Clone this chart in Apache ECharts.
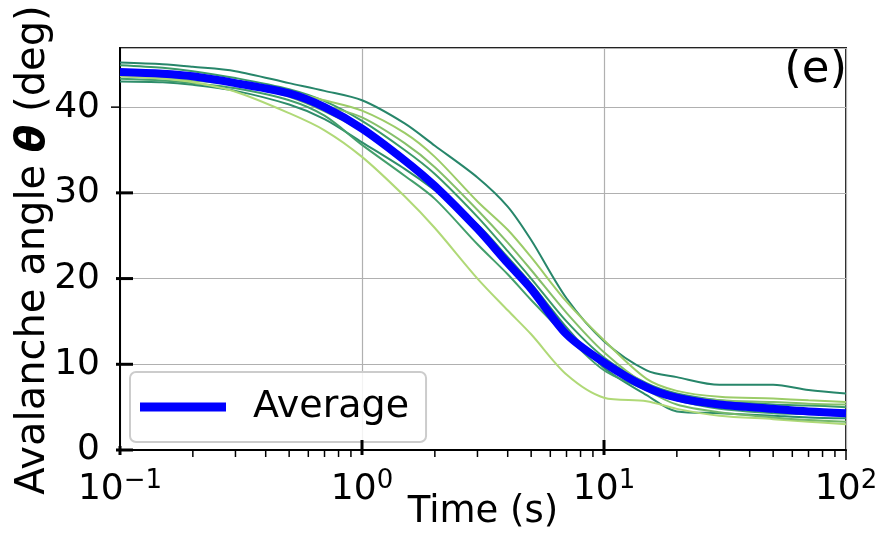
<!DOCTYPE html>
<html><head><meta charset="utf-8">
<script src="https://cdn.jsdelivr.net/npm/echarts@6/dist/echarts.min.js"></script>
<style>html,body{margin:0;padding:0;background:#fff}#c{width:883px;height:533px}</style>
</head><body><div id="c"></div>
<script>
// Time samples (s)
const times = [0.1,0.15,0.2,0.3,0.5,0.7,1,1.5,2,3,4,5,7,10,15,20,30,50,70,100];
// Individual runs (deg)
const runA = [45.2,45.0,44.7,44.2,42.8,41.9,40.8,38.1,35.5,31.8,28.4,24.5,17.7,12.7,9.3,8.5,7.6,7.6,7.0,6.6];
const runB = [44.9,44.6,44.2,43.4,42.1,40.7,38.4,35.0,32.2,27.2,23.2,20.0,15.0,10.8,7.8,6.6,5.8,5.3,5.2,5.0];
const runC = [43.8,43.6,43.3,42.8,41.8,40.8,39.6,37.0,34.2,29.0,25.7,22.5,17.3,12.8,8.3,6.9,6.2,6.0,5.8,5.6];
const runD = [43.6,43.4,43.1,42.6,41.4,40.2,38.8,35.8,33.0,28.0,24.2,21.0,16.0,11.4,7.6,6.4,5.8,5.6,5.4,5.3];
const runE = [43.0,42.9,42.6,41.9,40.3,38.6,35.9,32.8,30.3,26.3,22.5,19.4,14.3,9.6,6.4,4.5,4.3,4.0,3.8,3.7];
const runF = [43.3,43.1,42.8,42.2,40.8,39.0,35.6,32.0,29.3,24.0,20.5,17.5,13.3,9.3,7.0,5.8,4.8,4.3,4.2,4.0];
const runG = [43.6,43.3,42.9,41.8,39.3,37.3,34.2,29.6,25.9,20.0,16.3,13.5,8.8,6.1,5.7,4.8,4.0,3.6,3.3,3.0];
const runH = [44.0,43.8,43.5,42.9,41.2,39.5,37.2,33.5,30.6,25.5,21.6,18.7,14.0,10.2,7.0,5.3,4.4,3.8,3.5,3.3];
const average = [44.1,43.9,43.6,42.8,41.6,40.0,37.5,33.8,30.8,25.8,21.8,18.8,13.5,10.2,7.3,6.1,5.3,4.8,4.5,4.3];
// Tick values
const yTickVals = [0,10,20,30,40];
const xMajorTicks = [0.1,1,10,100];
const xMinorTicks = [0.2,0.3,0.4,0.5,0.6,0.7,0.8,0.9,2,3,4,5,6,7,8,9,20,30,40,50,60,70,80,90];

const FONT = 'DejaVu Sans';
const runs = [runA, runB, runC, runD, runE, runF, runG, runH];
const runColors = ['#27866a','#3b9a6a','#9ccc68','#86c06a','#2f8d6b','#449f6c','#b0d977','#74b86a'];
const pairs = arr => times.map((t,i)=>[t, arr[i]]);

const series = runs.map((r,i)=>({
  name: 'run' + (i+1), type:'line', data: pairs(r), showSymbol:false, smooth:0.3,
  lineStyle:{color:runColors[i], width:2}, itemStyle:{color:runColors[i]}, silent:true, z:2
}));
series.push({
  name:'Average', type:'line', data: pairs(average), showSymbol:false, smooth:0.3,
  lineStyle:{color:'#0000ff', width:8}, itemStyle:{color:'#0000ff'}, z:3
});
// tick marks: kind 0 = x minor, 1 = x major (thick), 2 = x origin, 3 = x end, 4 = y major thick, 5 = y top thin
const tickData = [];
xMinorTicks.forEach(v=>tickData.push([v,0,0]));
xMajorTicks.forEach((v,i)=>tickData.push([v,0, i===0?2:(i===xMajorTicks.length-1?3:1)]));
yTickVals.forEach((v,i)=>tickData.push([0.1, v, i===yTickVals.length-1?5:4]));
series.push({
  type:'custom', silent:true, clip:false, z:10, data: tickData, encode:{x:0,y:1},
  renderItem(params, api){
    const k = api.value(2);
    const p = api.coord([api.value(0), api.value(1)]);
    let s, w = 1.5;
    if (k===0) s = {x1:p[0],y1:p[1],x2:p[0],y2:p[1]+7};
    else if (k===1){ s = {x1:p[0],y1:p[1]-10,x2:p[0],y2:p[1]+5}; w = 3; }
    else if (k===2){ s = {x1:p[0],y1:p[1]-4,x2:p[0],y2:p[1]+5}; w = 3; }
    else if (k===3) s = {x1:p[0],y1:p[1],x2:p[0],y2:p[1]+10};
    else if (k===4){ s = {x1:p[0]-4,y1:p[1],x2:p[0]+13,y2:p[1]}; w = 3; }
    else s = {x1:p[0]-9,y1:p[1],x2:p[0],y2:p[1]};
    return {type:'line', shape:s, style:{stroke:'#000', lineWidth:w}};
  }
});

const chart = echarts.init(document.getElementById('c'), null, {renderer:'canvas'});
chart.setOption({
  animation:false,
  backgroundColor:'#fff',
  grid:{left:120, right:37, top:48, bottom:83, outerBoundsMode:'none', containLabel:false,
    show:true, borderColor:'#222', borderWidth:2, backgroundColor:'transparent'},
  legend:{
    data:[{name:'Average', icon:'rect'}], left:130, top:372,
    itemWidth:86, itemHeight:9,
    padding:[16,17,16,10],
    backgroundColor:'rgba(255,255,255,0.85)', borderColor:'#cccccc', borderWidth:2, borderRadius:6,
    textStyle:{fontSize:38, color:'#000', fontFamily:FONT, padding:[0,0,0,22]}
  },
  xAxis:{
    type:'log', logBase:10, min:0.1, max:100,
    name:'Time (s)', nameLocation:'middle', nameGap:44, nameMoveOverlap:false,
    nameTextStyle:{fontSize:37, color:'#000', fontFamily:FONT},
    axisLine:{show:true, lineStyle:{color:'#000', width:2}},
    axisTick:{show:false}, minorTick:{show:false},
    splitLine:{show:true, lineStyle:{color:'#b0b0b0', width:1.2}},
    axisLabel:{
      margin:18, color:'#000',
      formatter:v=>{ const e=Math.round(Math.log10(v)); return '{b|10}{s|'+(e<0?'\u2212'+(-e):e)+'}'; },
      rich:{
        b:{fontSize:36, fontFamily:FONT, color:'#000', lineHeight:40, verticalAlign:'bottom'},
        s:{fontSize:26, fontFamily:FONT, color:'#000', lineHeight:28, verticalAlign:'top'}
      }
    }
  },
  yAxis:{
    type:'value', min:0, max:46.9, interval:10,
    name:'Avalanche angle {t|\u03b8} (deg)', nameLocation:'middle', nameGap:66, nameRotate:90, nameMoveOverlap:false,
    nameTextStyle:{fontSize:40, color:'#000', fontFamily:FONT, padding:[0,2,0,0],
      rich:{t:{fontSize:40, fontFamily:FONT, fontWeight:'bold', fontStyle:'italic', color:'#000'}}},
    axisLine:{show:true, lineStyle:{color:'#000', width:2}},
    axisTick:{show:false},
    splitLine:{show:true, lineStyle:{color:'#b0b0b0', width:1.2}},
    axisLabel:{fontSize:36, color:'#000', fontFamily:FONT, margin:20, showMaxLabel:false,
      formatter:v=> yTickVals.indexOf(v)>=0 ? String(v) : ''}
  },
  graphic:[{type:'text', right:36, top:48, style:{text:'(e)', fontSize:45, fill:'#000', fontFamily:FONT}}],
  series
});
</script></body></html>
